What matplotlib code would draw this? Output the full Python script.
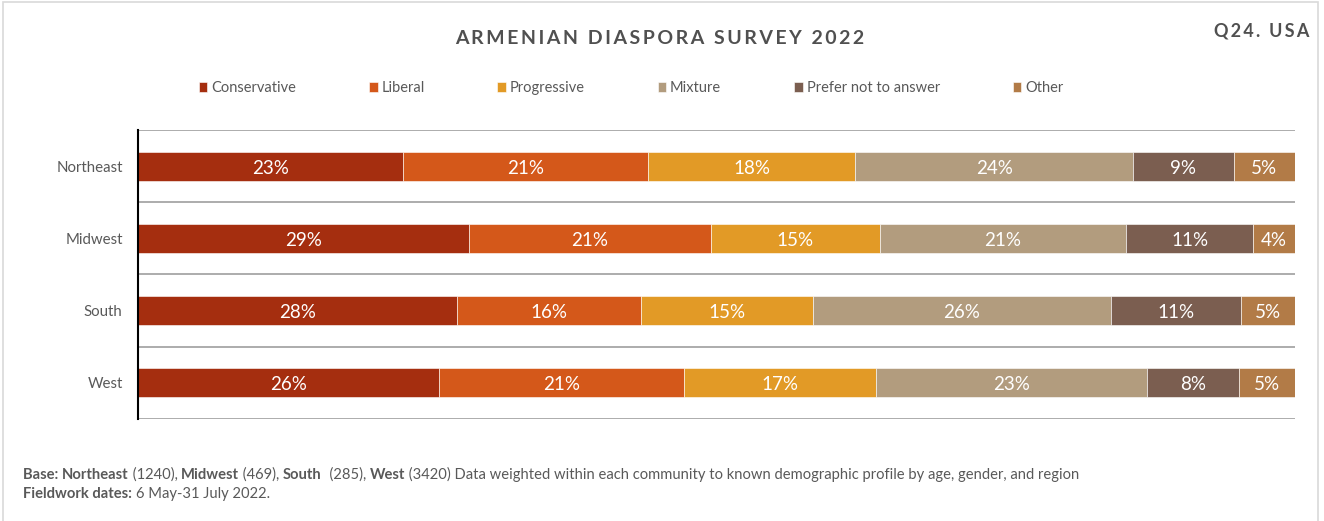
import matplotlib.pyplot as plt
from matplotlib.patches import Rectangle

regions = ["Northeast", "Midwest", "South", "West"]
answers = ["Conservative", "Liberal", "Progressive", "Mixture", "Prefer not to answer", "Other"]
conservative = [22.9, 28.6, 27.6, 26.0]
liberal = [21.2, 20.9, 15.9, 21.2]
progressive = [17.9, 14.6, 14.8, 16.6]
mixture = [24.0, 21.3, 25.8, 23.4]
prefer_not = [8.7, 11.0, 11.2, 8.0]
other = [5.3, 3.6, 4.7, 4.8]
colors = ["#a52e0f", "#d4581a", "#e29a26", "#b29c7e", "#7b5e50", "#b27b47"]

series = [conservative, liberal, progressive, mixture, prefer_not, other]
grey = "#595959"
font = ["Lato", "DejaVu Sans"]
plt.rcParams["font.family"] = font

fig = plt.figure(figsize=(13.24, 5.21), dpi=100)
ax = fig.add_axes([0.1042, 0.1958, 0.8739, 0.5547])

ypos = list(range(len(regions)))
left = [0.0] * len(regions)
for name, vals, col in zip(answers, series, colors):
    bars = ax.barh(ypos, vals, left=left, height=0.40, color=col, label=name,
                   edgecolor="white", linewidth=0.4)
    texts = ax.bar_label(bars, labels=[f"{v:.0f}%" for v in vals], label_type="center",
                         color="white", fontsize=13.5, family=font)
    for t in texts:
        t.xyann = (0, -1.5)  # nudge down a touch
    left = [a + b for a, b in zip(left, vals)]

ax.set_xlim(0, 100)
ax.set_ylim(3.5, -0.5)
ax.set_yticks(ypos)
ax.set_yticklabels(regions, color=grey, fontsize=10.8)
ax.tick_params(axis="y", length=0, pad=11)
ax.set_xticks([])
for y in [-0.5, 0.5, 1.5, 2.5, 3.5]:
    ax.axhline(y, color="#a6a6a6", lw=1.3, zorder=0)
for s in ["top", "right", "bottom"]:
    ax.spines[s].set_visible(False)
ax.spines["left"].set_color("black")
ax.spines["left"].set_linewidth(1.5)

title = "\u2009".join("ARMENIAN DIASPORA SURVEY 2022")
fig.text(0.4985, 0.927, title, ha="center", va="center", fontsize=14,
         fontweight="bold", color="#505050")
fig.text(0.989, 0.940, "\u2009".join("Q24. USA"), ha="right", va="center",
         fontsize=13, fontweight="bold", color="#505050")

fig.legend(loc="center", bbox_to_anchor=(0.4766, 0.831), ncol=6, frameon=False,
           fontsize=10.5, labelcolor=grey, handlelength=0.6, handleheight=0.6,
           handletextpad=0.25, columnspacing=5.0)

# footer with mixed bold / regular pieces
pieces = [("Base: ", "bold"), ("Northeast", "bold"), (" (1240), ", "normal"),
          ("Midwest", "bold"), (" (469), ", "normal"), ("South", "bold"),
          ("  (285), ", "normal"), ("West", "bold"),
          (" (3420) Data weighted within each community to known demographic profile by age, gender, and region", "normal")]
fs = 10.65
prev = None
for txt, w in pieces:
    if prev is None:
        prev = fig.text(0.0174, 0.075, txt, fontsize=fs, fontweight=w, color=grey, va="bottom")
    else:
        prev = ax.annotate(txt, xy=(1, 0), xycoords=prev, fontsize=fs, fontweight=w,
                           color=grey, va="bottom", ha="left", annotation_clip=False)
prev = fig.text(0.0174, 0.038, "Fieldwork dates: ", fontsize=fs, fontweight="bold", color=grey, va="bottom")
ax.annotate("6 May-31 July 2022.", xy=(1, 0), xycoords=prev, fontsize=fs,
            color=grey, va="bottom", ha="left", annotation_clip=False)

fig.add_artist(Rectangle((0.0023, -0.01), 0.9932, 1.0062, transform=fig.transFigure,
                         fill=False, edgecolor="#d9d9d9", lw=1.2))

fig.savefig("out.png", dpi=100)
